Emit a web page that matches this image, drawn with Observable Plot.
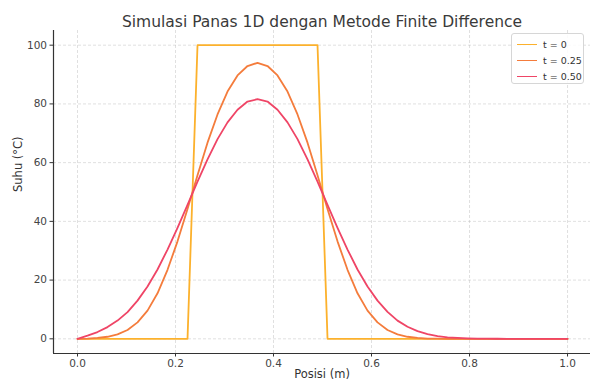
<!DOCTYPE html>
<html><head><meta charset="utf-8">
<script src="https://cdn.jsdelivr.net/npm/d3@7"></script>
<script src="https://cdn.jsdelivr.net/npm/@observablehq/plot@0.6"></script>
<style>
body{margin:0;background:#fff;}
#wrap{position:relative;width:590px;height:385px;font-family:"DejaVu Sans",sans-serif;}
#legend{position:absolute;left:511px;top:33px;width:73px;height:51px;border:1px solid #d6d6d6;border-radius:3px;background:rgba(255,255,255,0.85);box-sizing:border-box;font-size:9.5px;color:#333;}
.item{position:absolute;left:5px;height:12px;display:flex;align-items:center;white-space:nowrap;}
.sw{width:20px;height:0;border-top:1.8px solid;margin-right:6px;}
</style></head>
<body>
<div id="wrap"><div id="chart"></div><div id="legend"></div></div>
<script>
// ---- data ----
const title = "Simulasi Panas 1D dengan Metode Finite Difference";
const xLabel = "Posisi (m)";
const yLabel = "Suhu (°C)";
const seriesNames = ["t = 0", "t = 0.25", "t = 0.50"];
const seriesColors = ["#fcb12c", "#f47c3c", "#ef4566"];
const N = 50;
const positions = d3.range(N).map(i => i / (N - 1));
const t0 = [0,0,0,0,0,0,0,0,0,0,0,0,
  100,100,100,100,100,100,100,100,100,100,100,100,100,
  0,0,0,0,0,0,0,0,0,0,0,0,0,0,0,0,0,0,0,0,0,0,0,0,0];
const t025 = [0,0.1,0.3,0.7,1.5,3.0,5.6,9.6,15.5,23.5,33.2,44.2,55.7,66.8,76.4,84.2,89.7,92.9,94.0,92.9,
  89.7,84.2,76.4,66.8,55.7,44.2,33.2,23.5,15.5,9.6,5.6,3.0,1.5,0.7,0.3,0.1,0.04,0.01,
  0,0,0,0,0,0,0,0,0,0,0,0];
const t050 = [0,1.1,2.3,4.0,6.2,9.1,13.0,17.8,23.6,30.4,37.8,45.6,53.5,61.1,68.0,73.7,78.0,80.8,81.6,80.8,
  78.0,73.7,68.0,61.1,53.5,45.6,37.8,30.4,23.6,17.8,13.0,9.2,6.2,4.1,2.6,1.6,0.9,0.5,0.3,0.15,0.07,0.04,0.02,
  0,0,0,0,0,0,0];
const xTicks = [0, 0.2, 0.4, 0.6, 0.8, 1.0];
const yTicks = [0, 20, 40, 60, 80, 100];
const xDomain = [-0.049, 1.0469];
const yDomain = [-5, 105];

const allSeries = [t0, t025, t050];
const rows = allSeries.map((vals, k) => vals.map((u, i) => ({x: positions[i], u, s: seriesNames[k]})));

const gridStyle = {stroke: "#b8b8b8", strokeOpacity: 0.55, strokeDasharray: "3,2", strokeWidth: 0.8};

const plot = Plot.plot({
  width: 590, height: 385,
  marginLeft: 53, marginRight: 0, marginTop: 30, marginBottom: 32,
  style: {fontFamily: "DejaVu Sans, sans-serif", fontSize: "10.5px", color: "#444", background: "white", overflow: "visible"},
  x: {domain: xDomain, label: null},
  y: {domain: yDomain, label: null},
  marks: [
    Plot.gridX(xTicks, gridStyle),
    Plot.gridY(yTicks, gridStyle),
    Plot.axisX(xTicks, {tickSize: 3.5, tickPadding: 3, tickFormat: d3.format(".1f"), label: null, stroke: "#333", fill: "#444"}),
    Plot.axisY(yTicks, {tickSize: 3.5, tickPadding: 3, label: null, stroke: "#333", fill: "#444"}),
    ...rows.map((r, k) => Plot.line(r, {x: "x", y: "u", stroke: seriesColors[k], strokeWidth: 1.8})),
    Plot.ruleX([xDomain[0]], {stroke: "#333", strokeWidth: 1.2}),
    Plot.ruleY([yDomain[0]], {stroke: "#333", strokeWidth: 1.2}),
    Plot.text([title], {frameAnchor: "top", dy: -15, fontSize: 15.5, fill: "#3a3a3a"}),
    Plot.text([xLabel], {frameAnchor: "bottom", dy: 24, fontSize: 11.5, fill: "#333"}),
    Plot.text([yLabel], {frameAnchor: "left", dx: -35, rotate: -90, fontSize: 11.5, fill: "#333"})
  ]
});
document.getElementById("chart").appendChild(plot);

const legend = document.getElementById("legend");
seriesNames.forEach((name, k) => {
  const it = document.createElement("div");
  it.className = "item";
  it.style.top = (4 + k * 16) + "px";
  const sw = document.createElement("span");
  sw.className = "sw";
  sw.style.borderTopColor = seriesColors[k];
  const tx = document.createElement("span");
  tx.textContent = name;
  it.appendChild(sw); it.appendChild(tx);
  legend.appendChild(it);
});
</script>
</body></html>
